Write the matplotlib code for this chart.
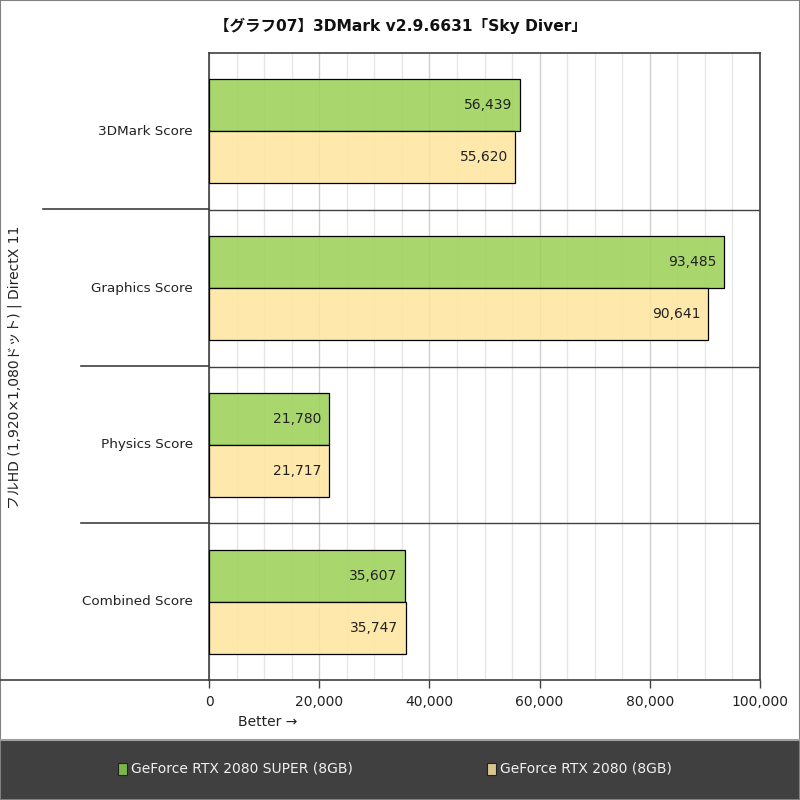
import matplotlib
matplotlib.use("Agg")
import matplotlib.pyplot as plt
from matplotlib.lines import Line2D
from matplotlib.patches import Rectangle
import numpy as np

plt.rcParams['font.family'] = ['DejaVu Sans', 'Noto Sans CJK JP']

title = "【グラフ07】3DMark v2.9.6631「Sky Diver」"
ylabel = "フルHD (1,920×1,080ドット) | DirectX 11"
xlabel = "Better →"
categories = ["3DMark Score", "Graphics Score", "Physics Score", "Combined Score"]
series_names = ["GeForce RTX 2080 SUPER (8GB)", "GeForce RTX 2080 (8GB)"]
super_vals = [56439, 93485, 21780, 35607]
base_vals = [55620, 90641, 21717, 35747]
xticks = [0, 20000, 40000, 60000, 80000, 100000]

bar_colors = [(154 / 255, 209 / 255, 84 / 255, 0.85), (1.0, 229 / 255, 158 / 255, 0.85)]
legend_colors = ["#7ab648", "#d9c48c"]
dark = "#404040"

W, H = 800, 800
fig = plt.figure(figsize=(8, 8), dpi=100)

def fx(px):
    return px / W

def fy(py):
    return 1 - py / H

ax = fig.add_axes([fx(209), fy(680), fx(760) - fx(209), fy(53) - fy(680)])

y = np.arange(len(categories))
h = 0.332
ax.barh(y - h / 2, super_vals, height=h, facecolor=bar_colors[0], edgecolor="black", linewidth=0.9, zorder=3)
ax.barh(y + h / 2, base_vals, height=h, facecolor=bar_colors[1], edgecolor="black", linewidth=0.9, zorder=3)

for i in range(len(categories)):
    ax.text(super_vals[i] - 1400, y[i] - h / 2, f"{super_vals[i]:,}", ha="right", va="center",
            fontsize=10, color="#222222", zorder=4)
    ax.text(base_vals[i] - 1400, y[i] + h / 2, f"{base_vals[i]:,}", ha="right", va="center",
            fontsize=10, color="#222222", zorder=4)

ax.set_xlim(0, 100000)
ax.set_ylim(len(categories) - 0.5, -0.5)
ax.set_xticks(xticks)
ax.set_xticklabels([f"{v:,}" for v in xticks], fontsize=10, color="#222222")
ax.set_xticks(np.arange(0, 100001, 5000), minor=True)
ax.tick_params(axis="x", which="major", length=6, width=1, color=dark, pad=5)
ax.tick_params(axis="x", which="minor", length=0)
ax.set_yticks([])
ax.grid(axis="x", which="minor", color="#e6e6e6", linewidth=1, zorder=0)
ax.grid(axis="x", which="major", color="#cfcfcf", linewidth=1, zorder=0)
for b in [0.5, 1.5, 2.5]:
    ax.axhline(b, color=dark, linewidth=1, zorder=2)
for s in ax.spines.values():
    s.set_color(dark)
    s.set_linewidth(1.2)

# category labels
for i, c in enumerate(categories):
    ax.text(-0.029, i, c, transform=ax.get_yaxis_transform(), ha="right", va="center",
            fontsize=9.7, color="#222222")

# separator lines to the left of the axes
seps = [(43, 209), (81, 366), (81, 523), (0, 680)]
for x0, yy in seps:
    fig.add_artist(Line2D([fx(x0), fx(209)], [fy(yy), fy(yy)], color=dark, linewidth=1.2))

# title
fig.text(0.5, fy(26), title, ha="center", va="center", fontsize=11.2, fontweight="bold", color="#111111")
# y label
fig.text(fx(15), fy(367), ylabel, rotation=90, ha="center", va="center", fontsize=10, color="#222222")
# x label
fig.text(fx(238), fy(722), xlabel, ha="left", va="center", fontsize=10, color="#222222")

# legend band
fig.add_artist(Rectangle((0, 0), 1, fy(740), facecolor=dark, edgecolor="none", zorder=0))
fig.add_artist(Line2D([0, 1], [fy(740), fy(740)], color="#a0a0a0", linewidth=1.5))
leg_x = [118, 487]
for i, name in enumerate(series_names):
    fig.add_artist(Rectangle((fx(leg_x[i]), fy(775)), fx(9), fy(763) - fy(775),
                             facecolor=legend_colors[i], edgecolor="#222222", linewidth=0.8))
    fig.text(fx(leg_x[i] + 13), fy(768), name, ha="left", va="center", fontsize=10, color="#f0f0f0")

# outer border
fig.add_artist(Rectangle((0.0006, 0.0006), 0.9988, 0.9988, facecolor="none", edgecolor="#808080",
                         linewidth=1.5))

fig.savefig("out.png", dpi=100, facecolor="white")
